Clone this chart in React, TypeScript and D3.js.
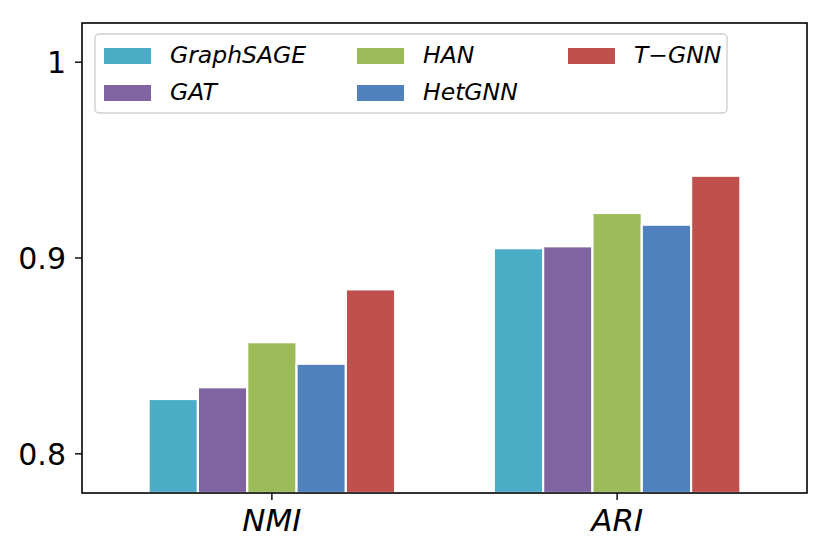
import * as d3 from 'd3';

const categories = ['NMI', 'ARI'];
const methods = ['GraphSAGE', 'GAT', 'HAN', 'HetGNN', 'T−GNN'];
const colors = ['#4bacc6', '#8064a2', '#9bbb59', '#4f81bd', '#c0504d'];
// values[method][category]
const values = [
  [0.828, 0.905],
  [0.834, 0.906],
  [0.857, 0.923],
  [0.846, 0.917],
  [0.884, 0.942],
];
const yTicks = [0.8, 0.9, 1];

const W = 830;
const H = 551;
const margin = { left: 82, right: 23, top: 23, bottom: 58 };
const barWidth = 1 / 7;
const font = '"DejaVu Sans", sans-serif';

export default function App() {
  const x = d3.scaleLinear().domain([-0.55, 1.55]).range([margin.left, W - margin.right]);
  const y = d3.scaleLinear().domain([0.78, 1.02]).range([H - margin.bottom, margin.top]);
  const bottom = H - margin.bottom;

  // legend layout, column-major with 3 columns
  const colX = [104, 357, 568];
  const rowY = [48, 85];
  const legendItems = methods.map((m, i) => ({
    name: m,
    color: colors[i],
    col: Math.floor(i / 2),
    row: i % 2,
  }));

  return (
    <svg
      width={W}
      height={H}
      style={{ position: 'absolute', left: 0, top: 0, background: '#fff' }}
      fontFamily={font}
    >
      {/* bars */}
      {methods.map((m, i) =>
        categories.map((c, j) => {
          const x0 = x(j + (i - 2.5) * barWidth);
          const x1 = x(j + (i - 1.5) * barWidth);
          const top = y(values[i][j]);
          return (
            <rect
              key={m + c}
              x={x0}
              y={top}
              width={x1 - x0}
              height={bottom - top}
              fill={colors[i]}
              stroke="#fff"
              strokeWidth={2.2}
            />
          );
        })
      )}

      {/* frame */}
      <rect
        x={margin.left}
        y={margin.top}
        width={W - margin.left - margin.right}
        height={bottom - margin.top}
        fill="none"
        stroke="#000"
        strokeWidth={1.6}
      />

      {/* y ticks */}
      {yTicks.map((t) => (
        <g key={t}>
          <line x1={margin.left - 7} x2={margin.left} y1={y(t)} y2={y(t)} stroke="#000" strokeWidth={1.4} />
          <text x={margin.left - 16} y={y(t)} dy="0.36em" textAnchor="end" fontSize={30} fill="#000">
            {d3.format('~g')(t)}
          </text>
        </g>
      ))}

      {/* x ticks */}
      {categories.map((c, j) => (
        <g key={c}>
          <line x1={x(j)} x2={x(j)} y1={bottom} y2={bottom + 7} stroke="#000" strokeWidth={1.4} />
          <text x={x(j)} y={531} textAnchor="middle" fontSize={31} fontStyle="italic" fill="#000">
            {c}
          </text>
        </g>
      ))}

      {/* legend */}
      <rect x={95} y={34} width={632} height={79} rx={4} fill="#fff" fillOpacity={0.8} stroke="#d0d0d0" strokeWidth={1.4} />
      {legendItems.map((d) => (
        <g key={d.name}>
          <rect x={colX[d.col]} y={rowY[d.row]} width={47} height={16} fill={d.color} />
          <text x={colX[d.col] + 66} y={rowY[d.row] + 15} fontSize={23.5} fontStyle="italic" fill="#000">
            {d.name}
          </text>
        </g>
      ))}
    </svg>
  );
}
